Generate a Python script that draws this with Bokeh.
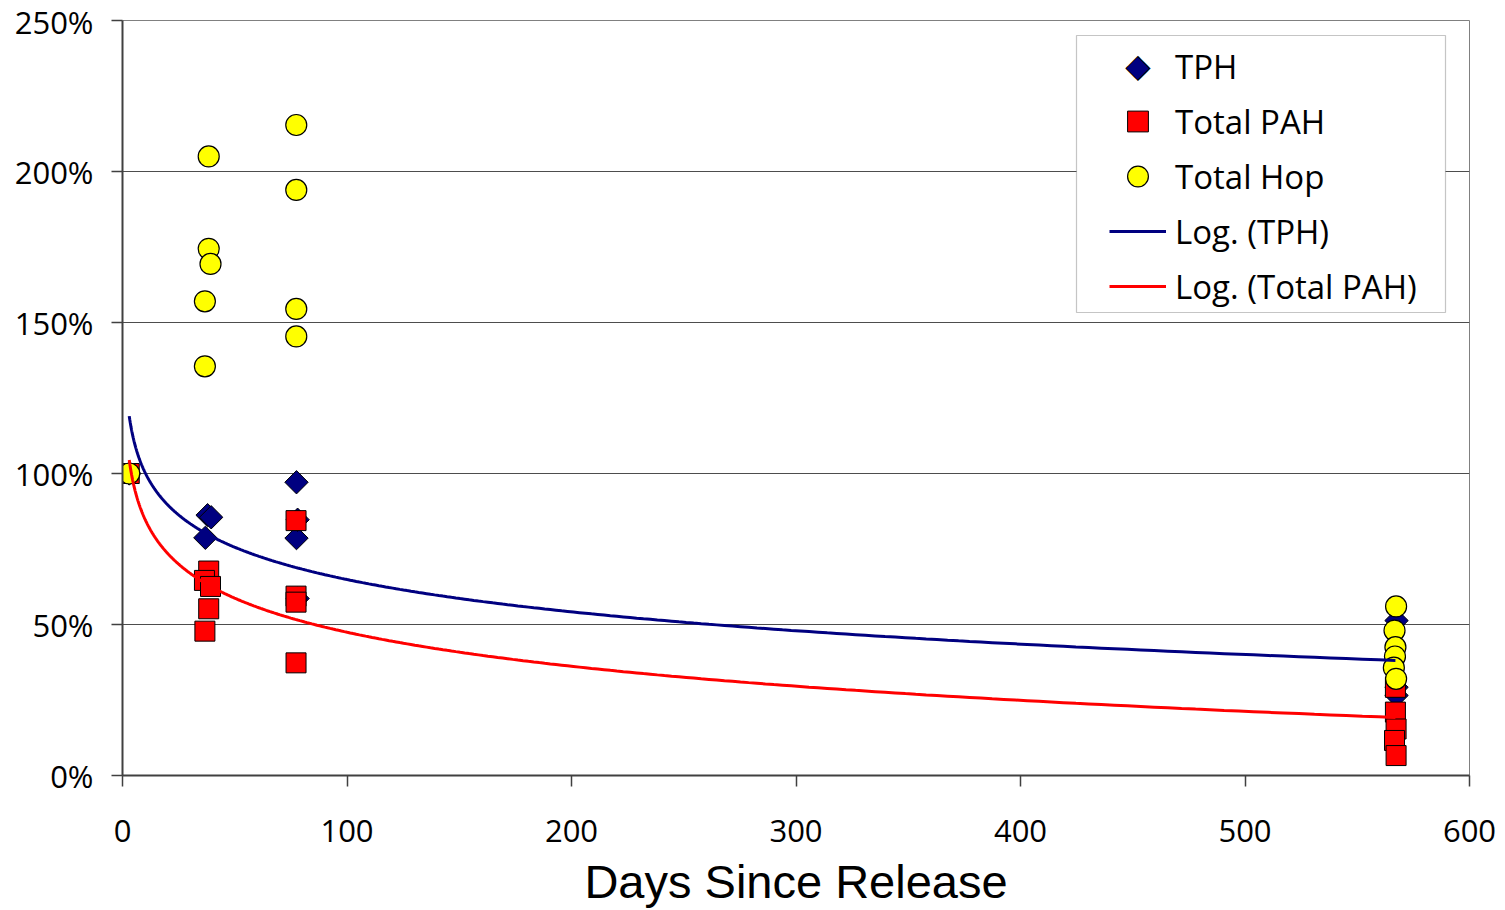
import numpy as np
from bokeh.plotting import figure
from bokeh.models import (NumeralTickFormatter, FixedTicker, Range1d, Legend,
                          LegendItem, BoxAnnotation, ColumnDataSource, Label)
from bokeh.embed import file_html
from bokeh.resources import INLINE

# ---------------- data (fractions: 1.0 = 100%) ----------------
tph_days = [3, 36.9, 37.9, 39.5, 77.5, 77.5, 78, 78, 567.5, 567.5, 567.5]
tph_vals = [1.00, 0.787, 0.862, 0.855, 0.971, 0.786, 0.847, 0.586, 0.513, 0.292, 0.265]

pah_days = [3, 38.4, 36.5, 39.2, 38.4, 36.7, 77.3, 77.3, 77.3, 77.3,
            567.0, 567.0, 567.3, 566.6, 567.3]
pah_vals = [1.00, 0.677, 0.646, 0.626, 0.552, 0.478, 0.844, 0.594, 0.574, 0.373,
            0.292, 0.210, 0.154, 0.116, 0.066]

hop_days = [3, 38.4, 38.4, 39.2, 36.7, 36.7, 77.4, 77.4, 77.4, 77.4,
            567.3, 566.6, 567.0, 566.8, 566.3, 567.3]
hop_vals = [1.00, 2.05, 1.744, 1.694, 1.57, 1.355, 2.154, 1.939, 1.545, 1.454,
            0.56, 0.48, 0.425, 0.394, 0.357, 0.32]

# logarithmic trendlines y = a + b*ln(x), coefficients
tph_trend = (1.3595, -0.1543)
pah_trend = (1.2237, -0.1627)
trend_start, trend_end = 3, 567

x_ticks = [0, 100, 200, 300, 400, 500, 600]
y_ticks = [0, 0.5, 1.0, 1.5, 2.0, 2.5]

NAVY = "#000080"
RED = "#FF0000"
YELLOW = "#FFFF00"
TICK_FONT = "Open Sans"

# ---------------- figure ----------------
p = figure(width=1505, height=910, output_backend="svg", toolbar_location=None,
           x_range=Range1d(0, 600), y_range=Range1d(0, 2.5),
           min_border_left=122, min_border_right=36, min_border_top=20,
           min_border_bottom=135)
p.background_fill_color = "white"
p.border_fill_color = "white"
p.outline_line_color = "#808080"
p.outline_line_width = 1

p.xgrid.visible = False
p.ygrid.ticker = FixedTicker(ticks=y_ticks)
p.ygrid.grid_line_color = "#4d4d4d"
p.ygrid.grid_line_width = 1

p.xaxis.ticker = FixedTicker(ticks=x_ticks)
p.yaxis.ticker = FixedTicker(ticks=y_ticks)
p.yaxis.formatter = NumeralTickFormatter(format="0%")

for ax in (p.xaxis[0], p.yaxis[0]):
    ax.axis_line_color = "#404040"
    ax.axis_line_width = 2
    ax.major_tick_line_color = "#404040"
    ax.major_tick_line_width = 1.5
    ax.major_tick_out = 11
    ax.major_tick_in = 0
    ax.minor_tick_line_color = None
    ax.major_label_text_font = TICK_FONT
    ax.major_label_text_font_size = "31px"
    ax.major_label_text_color = "black"

p.yaxis.major_label_standoff = 18
p.xaxis.major_label_standoff = 33

p.xaxis.axis_label = "Days Since Release"
p.xaxis.axis_label_text_font = "Liberation Sans"
p.xaxis.axis_label_text_font_style = "normal"
p.xaxis.axis_label_text_font_size = "47px"
p.xaxis.axis_label_text_color = "black"
p.xaxis.axis_label_standoff = 10

# ---------------- marks ----------------
src_tph = ColumnDataSource(dict(x=tph_days, y=tph_vals))
src_pah = ColumnDataSource(dict(x=pah_days, y=pah_vals))
src_hop = ColumnDataSource(dict(x=hop_days, y=hop_vals))

r_tph = p.scatter("x", "y", source=src_tph, marker="square", angle=np.pi / 4,
                  size=16.5, fill_color=NAVY, line_color="black", line_width=1)
r_pah = p.scatter("x", "y", source=src_pah, marker="square", size=20,
                  fill_color=RED, line_color="black", line_width=1)
r_hop = p.scatter("x", "y", source=src_hop, marker="circle", size=21,
                  fill_color=YELLOW, line_color="black", line_width=1.2)

xt = np.geomspace(trend_start, trend_end, 400)
r_ltph = p.line(xt, tph_trend[0] + tph_trend[1] * np.log(xt),
                line_color=NAVY, line_width=3)
r_lpah = p.line(xt, pah_trend[0] + pah_trend[1] * np.log(xt),
                line_color=RED, line_width=3)

# invisible stand-in so the TPH legend row keeps its place (diamond drawn below)
r_tph_key = p.scatter(x=[], y=[], marker="square", fill_alpha=0, line_alpha=0)

# ---------------- legend ----------------
box = BoxAnnotation(left=1076, right=1445, top=35, bottom=312,
                    left_units="canvas", right_units="canvas",
                    top_units="canvas", bottom_units="canvas",
                    fill_color="white", fill_alpha=1.0,
                    line_color="#404040", line_width=1.2, level="annotation")
p.add_layout(box)

legend = Legend(items=[
    LegendItem(label="TPH", renderers=[r_tph_key]),
    LegendItem(label="Total PAH", renderers=[r_pah]),
    LegendItem(label="Total Hop", renderers=[r_hop]),
    LegendItem(label="Log. (TPH)", renderers=[r_ltph]),
    LegendItem(label="Log. (Total PAH)", renderers=[r_lpah]),
], location=(987, 463))
legend.padding = 0
legend.margin = 0
legend.spacing = 3
legend.glyph_width = 57
legend.glyph_height = 52
legend.label_standoff = 9
legend.label_text_font = TICK_FONT
legend.label_text_font_size = "33px"
legend.label_text_color = "black"
legend.border_line_alpha = 0
legend.background_fill_alpha = 0
p.add_layout(legend)

# diamond key for the TPH legend row (outline + fill)
for fsize, col in (("33px", "black"), ("29px", NAVY)):
    p.add_layout(Label(x=1137.5, y=65, x_units="canvas", y_units="canvas",
                       text="\u25C6", text_font="DejaVu Sans",
                       text_font_size=fsize, text_color=col,
                       text_align="center", text_baseline="middle"))

open("out.html", "w").write(file_html(p, INLINE))
